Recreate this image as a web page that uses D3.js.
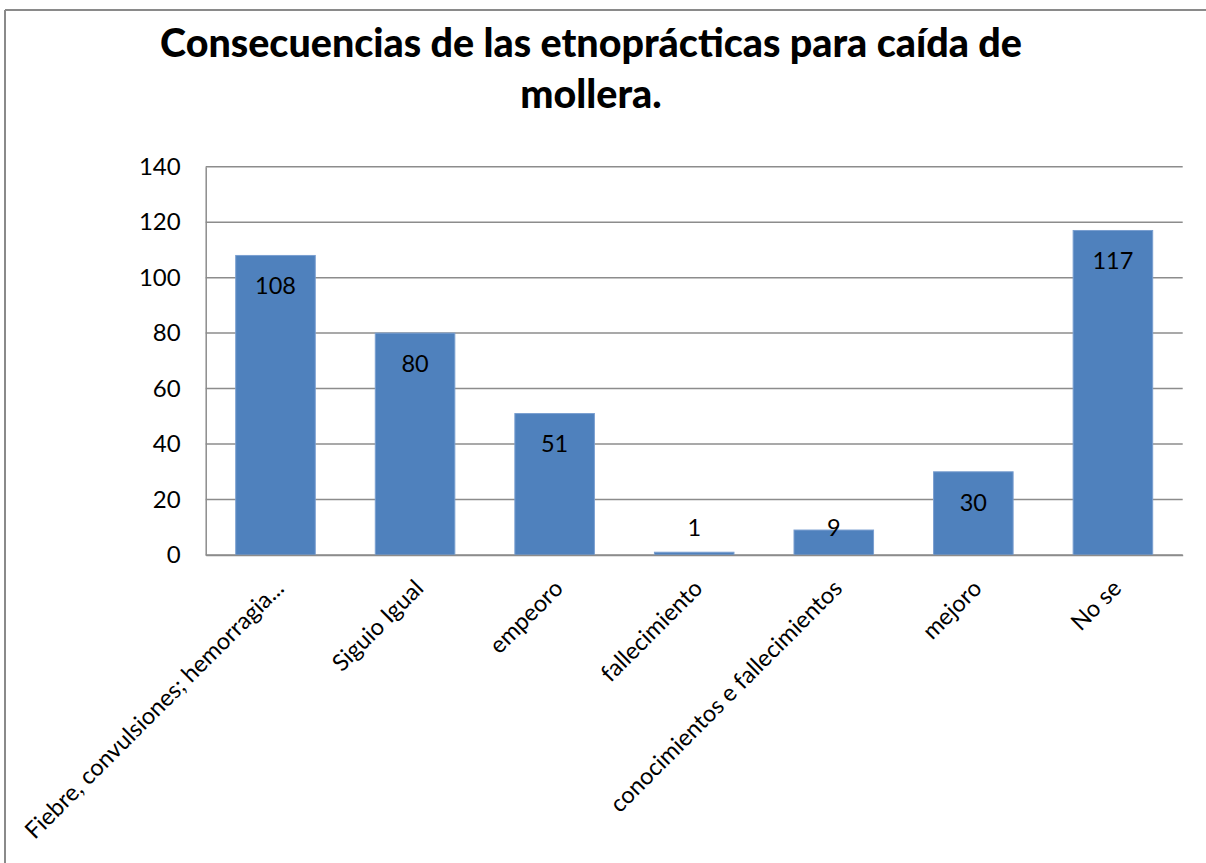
<!DOCTYPE html>
<html>
<head>
<meta charset="utf-8">
<script src="https://cdn.jsdelivr.net/npm/d3@7"></script>
<style>
  html, body { margin: 0; padding: 0; background: #fff; }
  svg { display: block; }
  text { font-family: Lato, "Open Sans", sans-serif; fill: #000; }
</style>
</head>
<body>
<svg id="chart" width="1206" height="863"></svg>
<script>
const titleLines = ["Consecuencias de las etnoprácticas para caída de", "mollera."];
const categories = ["Fiebre, convulsiones; hemorragia...", "Siguio Igual", "empeoro", "fallecimiento", "conocimientos e fallecimientos", "mejoro", "No se"];
const values = [108, 80, 51, 1, 9, 30, 117];
const yTicks = [0, 20, 40, 60, 80, 100, 120, 140];

const W = 1206, H = 863;
const plot = { left: 205.7, right: 1182.7, top: 166.7, bottom: 555 };
const svg = d3.select("#chart");

// outer frame (top and left edges visible)
svg.append("line").attr("x1", 5).attr("x2", W).attr("y1", 10).attr("y2", 10)
  .attr("stroke", "#8a8a8a").attr("stroke-width", 2);
svg.append("line").attr("x1", 5).attr("x2", 5).attr("y1", 10).attr("y2", H)
  .attr("stroke", "#8a8a8a").attr("stroke-width", 2);

// title
const tl = svg.append("g").selectAll("text").data(titleLines).join("text")
  .attr("x", 591).attr("y", (d, i) => 57 + i * 51)
  .attr("text-anchor", "middle")
  .attr("font-weight", 900)
  .attr("font-size", 32)
  .text(d => d);
const w0 = tl.node().getComputedTextLength();
tl.attr("font-size", 32 * 862 / w0);

const x = d3.scaleBand().domain(categories).range([plot.left, plot.right])
  .paddingInner(0.43).paddingOuter(0.215);
const y = d3.scaleLinear().domain([0, 140]).range([plot.bottom, plot.top]);

// gridlines
svg.append("g").selectAll("line").data(yTicks).join("line")
  .attr("x1", plot.left).attr("x2", plot.right)
  .attr("y1", d => y(d)).attr("y2", d => y(d))
  .attr("stroke", "#8c8c8c").attr("stroke-width", 1.5);

// y axis
const yAxis = svg.append("g").attr("transform", `translate(${plot.left},0)`)
  .call(d3.axisLeft(y).tickValues(yTicks).tickSize(0).tickPadding(25));
yAxis.select(".domain").attr("stroke", "#8c8c8c").attr("stroke-width", 1.5);
yAxis.selectAll("text").attr("font-size", 24).attr("font-family", "Lato").attr("fill", "#000");

// bars
svg.append("g").selectAll("rect").data(values).join("rect")
  .attr("x", (d, i) => x(categories[i]))
  .attr("width", x.bandwidth())
  .attr("y", d => y(d))
  .attr("height", d => plot.bottom - y(d))
  .attr("fill", "#4f81bd")
  .attr("stroke", "#7a9fd0").attr("stroke-width", 1);

// x axis line
const xAxis = svg.append("g").attr("transform", `translate(0,${plot.bottom})`)
  .call(d3.axisBottom(x).tickSize(0).tickFormat(""));
xAxis.select(".domain").attr("stroke", "#8c8c8c").attr("stroke-width", 1.5);

// category labels
svg.append("g").selectAll("text").data(categories).join("text")
  .attr("transform", d => `translate(${x(d) + x.bandwidth() / 2 + 4},584) rotate(-45)`)
  .attr("text-anchor", "end")
  .attr("dy", "0.35em")
  .attr("font-size", 23.5)
  .text(d => d);

// data labels
svg.append("g").selectAll("text").data(values).join("text")
  .attr("x", (d, i) => x(categories[i]) + x.bandwidth() / 2)
  .attr("y", d => Math.min(y(d) + 30.5, 528))
  .attr("dy", "0.35em")
  .attr("text-anchor", "middle")
  .attr("font-size", 23.5)
  .text(d => d);
</script>
</body>
</html>
